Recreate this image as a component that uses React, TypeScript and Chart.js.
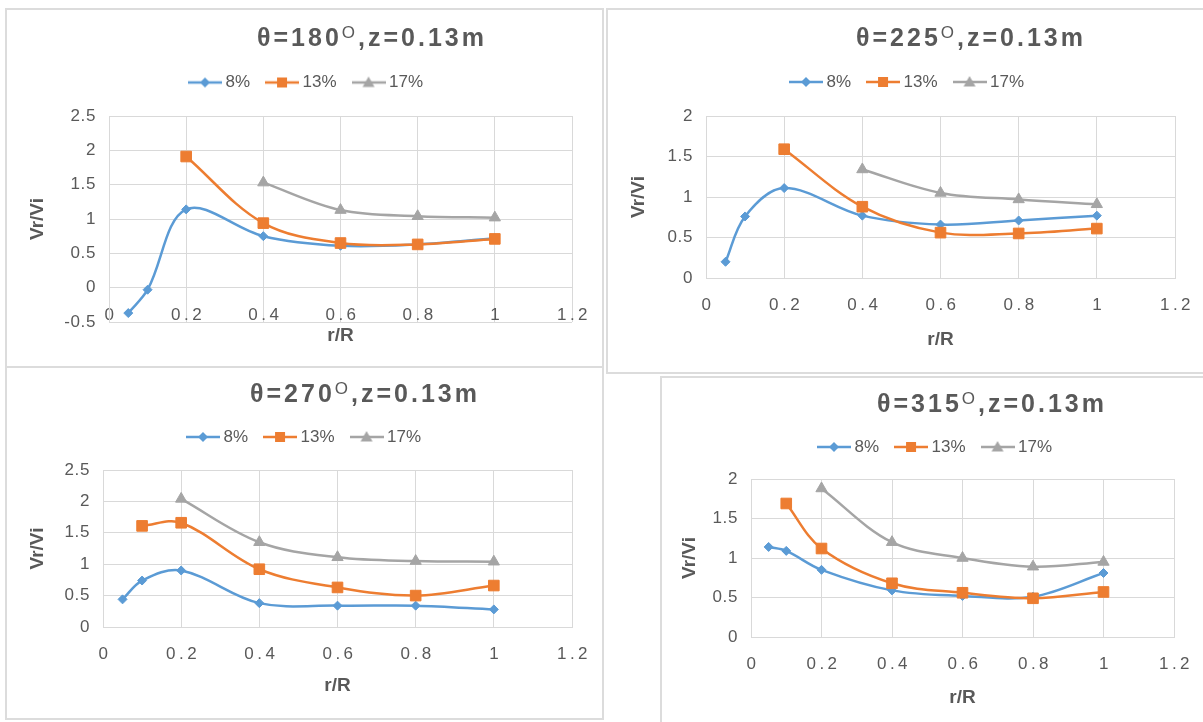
import React, { useEffect, useRef } from 'react';
import { Chart, registerables } from 'chart.js';

Chart.register(...registerables);

// ---------------- data ----------------
const seriesLabels = ['8%', '13%', '17%'];
const angleLabels = ['180', '225', '270', '315'];
const depthLabel = '0.13m';
const xAxisTitle = 'r/R';
const yAxisTitle = 'Vr/Vi';
const xRange = [0, 1.2];
const xStep = 0.2;
const yStep = 0.5;

// theta = 180
const r180_8 = [0.05, 0.1, 0.2, 0.4, 0.6, 0.8, 1];
const v180_8 = [-0.37, -0.03, 1.14, 0.75, 0.61, 0.63, 0.72];
const r180_13 = [0.2, 0.4, 0.6, 0.8, 1];
const v180_13 = [1.91, 0.94, 0.65, 0.63, 0.71];
const r180_17 = [0.4, 0.6, 0.8, 1];
const v180_17 = [1.53, 1.13, 1.04, 1.02];
const yRange180 = [-0.5, 2.5];

// theta = 225
const r225_8 = [0.05, 0.1, 0.2, 0.4, 0.6, 0.8, 1];
const v225_8 = [0.2, 0.76, 1.11, 0.77, 0.66, 0.71, 0.77];
const r225_13 = [0.2, 0.4, 0.6, 0.8, 1];
const v225_13 = [1.59, 0.88, 0.56, 0.55, 0.61];
const r225_17 = [0.4, 0.6, 0.8, 1];
const v225_17 = [1.34, 1.05, 0.97, 0.91];
const yRange225 = [0, 2];

// theta = 270
const r270_8 = [0.05, 0.1, 0.2, 0.4, 0.6, 0.8, 1];
const v270_8 = [0.44, 0.74, 0.9, 0.38, 0.34, 0.34, 0.28];
const r270_13 = [0.1, 0.2, 0.4, 0.6, 0.8, 1];
const v270_13 = [1.61, 1.66, 0.92, 0.63, 0.5, 0.66];
const r270_17 = [0.2, 0.4, 0.6, 0.8, 1];
const v270_17 = [2.04, 1.35, 1.11, 1.05, 1.04];
const yRange270 = [0, 2.5];

// theta = 315
const r315_8 = [0.05, 0.1, 0.2, 0.4, 0.6, 0.8, 1];
const v315_8 = [1.14, 1.09, 0.85, 0.59, 0.52, 0.51, 0.81];
const r315_13 = [0.1, 0.2, 0.4, 0.6, 0.8, 1];
const v315_13 = [1.69, 1.12, 0.68, 0.56, 0.49, 0.57];
const r315_17 = [0.2, 0.4, 0.6, 0.8, 1];
const v315_17 = [1.88, 1.2, 1.0, 0.89, 0.95];
const yRange315 = [0, 2];

// ---------------- styles ----------------
const FONT = "'Liberation Sans', Arial, Helvetica, sans-serif";
const TEXT = '#595959';
const GRID = '#d9d9d9';
const PANEL_BORDER = '#dcdcdc';
const COLORS = ['#5B9BD5', '#ED7D31', '#A5A5A5'];
const MARKERS = ['rectRot', 'rect', 'triangle'];
const RADII = [4.5, 7.5, 6.5];
const BORDER = 2;
const AXIS_TITLE_SIZE = 19;
const AXIS_TITLE_LH = AXIS_TITLE_SIZE * 1.2;
const LEG_FONT = 17;
const LEG_PAD = 20;

type Series = { r: number[]; v: number[] };
type Spec = {
  angle: string;
  series: Series[];
  yRange: number[];
  box: number[]; // L, T, W, H (outer)
  plot: number[]; // left, right, top, bottom (page coords)
  legend: number[]; // cx, cy
  yTitleX: number;
  xTitleY: number;
  title: number[]; // cx, cy
};

const specs: Spec[] = [
  {
    angle: angleLabels[0],
    series: [
      { r: r180_8, v: v180_8 },
      { r: r180_13, v: v180_13 },
      { r: r180_17, v: v180_17 },
    ],
    yRange: yRange180,
    box: [5, 8, 599, 360],
    plot: [109, 572, 116, 322],
    legend: [308, 82.5],
    yTitleX: 38,
    xTitleY: 336,
    title: [372, 37],
  },
  {
    angle: angleLabels[1],
    series: [
      { r: r225_8, v: v225_8 },
      { r: r225_13, v: v225_13 },
      { r: r225_17, v: v225_17 },
    ],
    yRange: yRange225,
    box: [606, 8, 620, 366],
    plot: [706, 1175, 116, 278],
    legend: [909, 82],
    yTitleX: 639,
    xTitleY: 340,
    title: [971, 37],
  },
  {
    angle: angleLabels[2],
    series: [
      { r: r270_8, v: v270_8 },
      { r: r270_13, v: v270_13 },
      { r: r270_17, v: v270_17 },
    ],
    yRange: yRange270,
    box: [5, 366, 599, 354],
    plot: [103, 572, 470, 627],
    legend: [306, 437],
    yTitleX: 38,
    xTitleY: 686,
    title: [365, 393],
  },
  {
    angle: angleLabels[3],
    series: [
      { r: r315_8, v: v315_8 },
      { r: r315_13, v: v315_13 },
      { r: r315_17, v: v315_17 },
    ],
    yRange: yRange315,
    box: [660, 376, 600, 360],
    plot: [751, 1174, 479, 637],
    legend: [937, 447],
    yTitleX: 690,
    xTitleY: 698,
    title: [992, 403],
  },
];

function makeIcon(i: number): HTMLCanvasElement {
  const c = document.createElement('canvas');
  c.width = 34;
  c.height = 16;
  const ctx = c.getContext('2d')!;
  const col = COLORS[i];
  ctx.strokeStyle = col;
  ctx.fillStyle = col;
  ctx.lineWidth = 2.5;
  ctx.beginPath();
  ctx.moveTo(0, 8);
  ctx.lineTo(34, 8);
  ctx.stroke();
  ctx.beginPath();
  if (i === 0) {
    ctx.moveTo(17, 3);
    ctx.lineTo(22, 8);
    ctx.lineTo(17, 13);
    ctx.lineTo(12, 8);
  } else if (i === 1) {
    ctx.rect(12, 3, 10, 10);
  } else {
    ctx.moveTo(17, 2);
    ctx.lineTo(23, 12.5);
    ctx.lineTo(11, 12.5);
  }
  ctx.closePath();
  ctx.fill();
  return c;
}

function patchSpacing(chart: any, id: string, spacing: string) {
  const s: any = chart.scales[id];
  if (s && !s.__patched) {
    const orig = s.drawLabels.bind(s);
    s.drawLabels = (area: any) => {
      const ctx: any = chart.ctx;
      ctx.save();
      ctx.letterSpacing = spacing;
      orig(area);
      ctx.restore();
    };
    s.__patched = true;
  }
}

const spacingPlugin = {
  id: 'tickSpacing',
  beforeDraw(chart: any) {
    patchSpacing(chart, 'x', '3.5px');
    patchSpacing(chart, 'y', '0.6px');
  },
};

const fmt = (v: any) => String(Math.round(Number(v) * 10) / 10);

function buildConfig(p: Spec): any {
  const ox = p.box[0] + BORDER;
  const oy = p.box[1] + BORDER;
  const cw = p.box[2] - 2 * BORDER;
  const ch = p.box[3] - 2 * BORDER;
  const left = p.plot[0] - ox;
  const right = p.plot[1] - ox;
  const top = p.plot[2] - oy;
  const bottom = p.plot[3] - oy;
  const padL = p.yTitleX - ox - AXIS_TITLE_LH / 2;
  const yW = left - padL;
  const legCx = p.legend[0] - ox;
  const legCy = p.legend[1] - oy;
  const padR = Math.max(0, padL + cw - 2 * legCx);
  const rW = Math.max(0, cw - padR - right);
  const legH = LEG_FONT + LEG_PAD + 10;
  const padT = legCy - (LEG_PAD + LEG_FONT / 2);
  const topGap = Math.max(0, top - (padT + legH));
  const padB = ch - (p.xTitleY - oy) - AXIS_TITLE_LH / 2;
  const bH = Math.max(0, ch - padB - bottom);

  const icons = [0, 1, 2].map(makeIcon);
  const tickFont = { family: FONT, size: 17 };
  const titleFont = { family: FONT, size: AXIS_TITLE_SIZE, weight: 'bold' as const };

  const datasets = p.series.map((s, i) => ({
    label: seriesLabels[i],
    data: s.r.map((x, k) => ({ x, y: s.v[k] })),
    showLine: true,
    borderColor: COLORS[i],
    backgroundColor: COLORS[i],
    borderWidth: 2.5,
    tension: 0.35,
    pointStyle: MARKERS[i],
    pointRadius: RADII[i],
    pointBackgroundColor: COLORS[i],
    pointBorderColor: COLORS[i],
    pointBorderWidth: 1,
    order: 3 - i,
  }));

  return {
    type: 'scatter',
    data: { datasets },
    plugins: [spacingPlugin],
    options: {
      animation: false,
      responsive: false,
      maintainAspectRatio: false,
      devicePixelRatio: 1,
      layout: { padding: { left: padL, right: padR, top: padT, bottom: padB } },
      plugins: {
        tooltip: { enabled: false },
        title: { display: false },
        legend: {
          display: true,
          position: 'top',
          align: 'center',
          labels: {
            usePointStyle: true,
            pointStyleWidth: 24,
            padding: LEG_PAD,
            color: TEXT,
            font: { family: FONT, size: LEG_FONT },
            sort: (a: any, b: any) => a.datasetIndex - b.datasetIndex,
            generateLabels: (chart: any) =>
              (Chart.defaults.plugins.legend.labels as any)
                .generateLabels(chart)
                .map((it: any) => ({ ...it, pointStyle: icons[it.datasetIndex] })),
          },
        },
      },
      scales: {
        x: {
          type: 'linear',
          display: true,
          position: { y: 0 },
          min: xRange[0],
          max: xRange[1],
          afterFit: (s: any) => {
            s.height = 0;
          },
          ticks: {
            stepSize: xStep,
            color: TEXT,
            font: tickFont,
            padding: 17,
            maxRotation: 0,
            autoSkip: false,
            labelOffset: 2,
            callback: fmt,
          },
          grid: { color: GRID, drawTicks: false, lineWidth: 1 },
          border: { color: GRID },
          title: { display: false },
        },
        y: {
          type: 'linear',
          display: true,
          position: 'left',
          min: p.yRange[0],
          max: p.yRange[1],
          afterFit: (s: any) => {
            s.width = yW;
          },
          ticks: { stepSize: yStep, color: TEXT, font: tickFont, padding: 13, callback: fmt },
          grid: { color: GRID, drawTicks: false, lineWidth: 1 },
          border: { color: GRID },
          title: { display: true, text: yAxisTitle, color: TEXT, font: titleFont, padding: 0 },
        },
        xt: {
          type: 'linear',
          display: true,
          position: 'bottom',
          afterFit: (s: any) => {
            s.height = bH;
          },
          ticks: { display: false },
          grid: { display: false, drawTicks: false },
          border: { display: false },
          title: { display: true, text: xAxisTitle, color: TEXT, font: titleFont, padding: 0 },
        },
        xs: {
          type: 'linear',
          display: true,
          position: 'top',
          afterFit: (s: any) => {
            s.height = topGap;
          },
          ticks: { display: false },
          grid: { display: false, drawTicks: false },
          border: { display: false },
        },
        yr: {
          type: 'linear',
          display: true,
          position: 'right',
          afterFit: (s: any) => {
            s.width = rW;
          },
          ticks: { display: false },
          grid: { display: false, drawTicks: false },
          border: { display: false },
        },
      },
    },
  };
}

function Panel({ p }: { p: Spec }) {
  const ref = useRef<HTMLCanvasElement>(null);
  const cw = p.box[2] - 2 * BORDER;
  const ch = p.box[3] - 2 * BORDER;
  useEffect(() => {
    const chart = new Chart(ref.current as HTMLCanvasElement, buildConfig(p));
    return () => chart.destroy();
  }, []);
  return (
    <div
      style={{
        position: 'absolute',
        left: p.box[0],
        top: p.box[1],
        width: p.box[2],
        height: p.box[3],
        boxSizing: 'border-box',
        border: `${BORDER}px solid ${PANEL_BORDER}`,
        background: '#fff',
      }}
    >
      <canvas
        ref={ref}
        width={cw}
        height={ch}
        style={{ position: 'absolute', left: 0, top: 0, width: cw, height: ch, display: 'block' }}
      />
    </div>
  );
}

function Title({ p }: { p: Spec }) {
  return (
    <div
      style={{
        position: 'absolute',
        left: p.title[0],
        top: p.title[1],
        transform: 'translate(-50%, -50%)',
        fontFamily: FONT,
        fontWeight: 'bold',
        fontSize: 25,
        letterSpacing: '3px',
        lineHeight: 1,
        color: TEXT,
        whiteSpace: 'nowrap',
      }}
    >
      θ={p.angle}
      <span style={{ fontWeight: 'normal', fontSize: 17, position: 'relative', top: -8 }}>O</span>
      ,z={depthLabel}
    </div>
  );
}

export default function App() {
  return (
    <div
      style={{
        position: 'fixed',
        left: 0,
        top: 0,
        width: 1203,
        height: 722,
        overflow: 'hidden',
        background: '#fff',
      }}
    >
      {specs.map((p, i) => (
        <Panel key={'p' + i} p={p} />
      ))}
      {specs.map((p, i) => (
        <Title key={'t' + i} p={p} />
      ))}
    </div>
  );
}
